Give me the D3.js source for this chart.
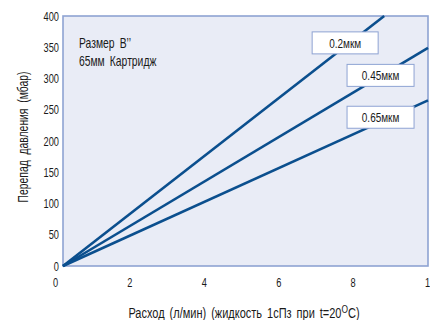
<!DOCTYPE html>
<html lang="ru">
<head>
<meta charset="UTF-8">
<title>Перепад давления</title>
<script src="https://cdn.jsdelivr.net/npm/d3@7"></script>
<style>
  body { margin: 0; background: #fff; }
  text { font-family: "Liberation Sans", Arial, sans-serif; fill: #1a1a1a; }
</style>
</head>
<body>
<div id="chart"></div>
<script>
// data
const series = ['0.2мкм', '0.45мкм', '0.65мкм']
const endFlow = [8.8, 10, 10]        // л/мин at end of each line
const endDrop = [400, 349, 265]      // мбар at end of each line
const labelAt = [[7.73, 357], [8.7, 305], [8.7, 238]]  // box centre, data units
const xTicks = [0, 2, 4, 6, 8, 10]
const xTickLabels = ['0', '2', '4', '6', '8', '1']
const yTicks = [0, 50, 100, 150, 200, 250, 300, 350, 400]

const W = 430, H = 320
const NARROW = 0.74   // condensed look of the original type

const svg = d3.select('#chart').append('svg')
  .attr('width', W).attr('height', H)

const x = d3.scaleLinear().domain([0, 10]).range([63, 428])
const xLab = d3.scaleLinear().domain([0, 10]).range([55, 427])
const y = d3.scaleLinear().domain([0, 400]).range([266, 16])

// plot area
svg.append('rect')
  .attr('x', x(0)).attr('y', y(400))
  .attr('width', x(10) - x(0)).attr('height', y(0) - y(400))
  .attr('fill', '#e9ecf6')
  .attr('stroke', '#8ea3d3')
  .attr('stroke-width', 1.6)

// y axis labels
svg.append('g')
  .attr('transform', `translate(${x(0) - 4},0)`)
  .call(d3.axisLeft(y).tickValues(yTicks).tickSize(0).tickPadding(0))
  .call(g => g.select('.domain').remove())
  .selectAll('text')
  .attr('font-size', 12.5)
  .attr('text-anchor', 'end')
  .attr('transform', `scale(${NARROW},1)`)

// x axis labels
svg.append('g')
  .attr('transform', `translate(0,${y(0) + 12})`)
  .call(d3.axisBottom(xLab).tickValues(xTicks).tickFormat((d, i) => xTickLabels[i]).tickSize(0).tickPadding(0))
  .call(g => g.select('.domain').remove())
  .selectAll('text')
  .attr('font-size', 12.5)
  .attr('transform', `scale(${NARROW},1)`)

// lines
const line = d3.line().x(d => x(d[0])).y(d => y(d[1]))
svg.append('g').selectAll('path')
  .data(series.map((s, i) => [[0, 0], [endFlow[i], endDrop[i]]]))
  .join('path')
  .attr('d', line)
  .attr('fill', 'none')
  .attr('stroke', '#0b4f8e')
  .attr('stroke-width', 2.6)

// label boxes
const boxes = svg.append('g').selectAll('g')
  .data(series)
  .join('g')
  .attr('transform', (d, i) => `translate(${x(labelAt[i][0])},${y(labelAt[i][1])})`)
boxes.append('rect')
  .attr('x', (d, i) => i === 0 ? -33 : -33.5)
  .attr('y', -11)
  .attr('width', (d, i) => i === 0 ? 66 : 67)
  .attr('height', 22)
  .attr('fill', '#fff')
  .attr('stroke', '#8ea3d3')
  .attr('stroke-width', 1)
boxes.append('text')
  .attr('text-anchor', 'middle')
  .attr('dy', '0.36em')
  .attr('font-size', 13.5)
  .attr('transform', `scale(${NARROW},1)`)
  .text(d => d)

// note
const note = svg.append('text')
  .attr('transform', `translate(79,48) scale(${NARROW},1)`)
  .attr('font-size', 14)
  .attr('word-spacing', 3)
note.append('tspan').attr('x', 0).text('Размер B\u2019\u2019')
note.append('tspan').attr('x', 0).attr('dy', 18).text('65мм Картридж')

// axis titles
svg.append('text')
  .attr('transform', `translate(28,137) rotate(-90) scale(${NARROW},1)`)
  .attr('text-anchor', 'middle')
  .attr('font-size', 14)
  .attr('word-spacing', 4)
  .text('Перепад давления (мбар)')

const xt = svg.append('text')
  .attr('transform', `translate(244,318) scale(0.76,1)`)
  .attr('text-anchor', 'middle')
  .attr('font-size', 14.5)
  .attr('word-spacing', 2.5)
xt.append('tspan').text('Расход (л/мин) (жидкость 1сПз при t=20')
xt.append('tspan').attr('dy', -5).attr('font-size', 11).text('O')
xt.append('tspan').attr('dy', 5).text('C)')
</script>
</body>
</html>
